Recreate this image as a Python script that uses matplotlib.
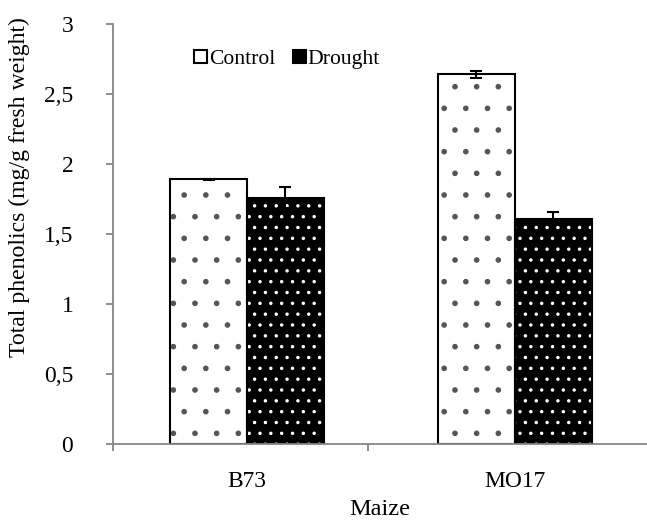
import numpy as np
import matplotlib.pyplot as plt
from matplotlib.patches import Patch

plt.rcParams['font.family'] = ['Liberation Serif', 'DejaVu Serif']
plt.rcParams['hatch.linewidth'] = 0.7

# data
genotypes = ['B73', 'MO17']
control = [1.89, 2.64]
control_err = [0.006, 0.025]
drought = [1.76, 1.61]
drought_err = [0.075, 0.045]
yticks = [0, 0.5, 1, 1.5, 2, 2.5, 3]
ytick_labels = ['0', '0,5', '1', '1,5', '2', '2,5', '3']

x = np.arange(len(genotypes))
w = 0.287

# dpi 130 so the hatch dots get the spacing of the original
D = 130
fig = plt.figure(figsize=(647 / D, 523 / D), dpi=D)
ax = fig.add_axes([113/647, 79/523, 534/647, 420/523])

lw = 1.15
ekw = dict(ecolor='black', elinewidth=lw, capsize=3.3, capthick=lw)

# Control: white with grey dots
ax.bar(x - w/2, control, w, color='white', edgecolor='#555555', hatch='.', linewidth=0)
ax.bar(x - w/2, control, w, color='none', edgecolor='black', linewidth=lw,
       yerr=control_err, error_kw=ekw)
# Drought: black with white dots
ax.bar(x + w/2, drought, w, color='black', edgecolor='white', hatch='..', linewidth=0)
ax.bar(x + w/2, drought, w, color='none', edgecolor='black', linewidth=lw,
       yerr=drought_err, error_kw=ekw)

h1 = Patch(facecolor='white', edgecolor='black', linewidth=lw)
h2 = Patch(facecolor='black', edgecolor='black', linewidth=lw)
ax.legend([h1, h2], ['Control', 'Drought'], loc='upper left', bbox_to_anchor=(0.127, 0.97),
          ncol=2, frameon=False, fontsize=12, handlelength=0.6, handleheight=0.6,
          handletextpad=0.1, columnspacing=0.8, borderaxespad=0.2)

ax.set_ylim(0, 3)
ax.set_xlim(-0.5, 1.493)
ax.set_yticks(yticks)
ax.set_yticklabels(ytick_labels, fontsize=13)
ax.set_xticks(x)
ax.set_xticklabels(genotypes, fontsize=13)
ax.set_xticks([-0.5, 0.45], minor=True)
ax.tick_params(axis='x', which='major', length=0, pad=15)
ax.tick_params(axis='x', which='minor', length=4, color='#868686', width=1)
ax.tick_params(axis='y', length=4, color='#868686', width=1, pad=18)

ax.set_ylabel('Total phenolics (mg/g fresh weight)', fontsize=13.2)
ax.yaxis.set_label_coords(-0.155, 0.612)
ax.set_xlabel('Maize', fontsize=13.5, labelpad=4)

for s in ['top', 'right']:
    ax.spines[s].set_visible(False)
for s in ['left', 'bottom']:
    ax.spines[s].set_color('#868686')
    ax.spines[s].set_linewidth(1)

fig.savefig('out.png', dpi=D)
